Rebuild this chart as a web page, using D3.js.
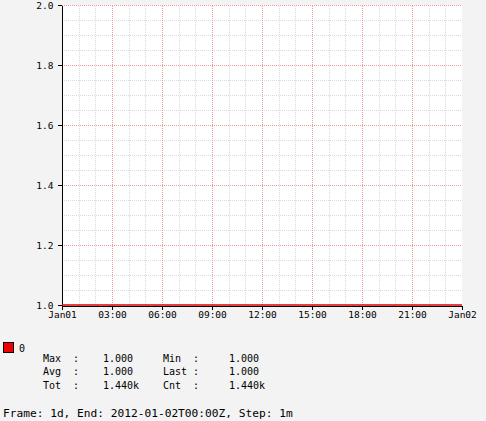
<!DOCTYPE html>
<html>
<head>
<meta charset="utf-8">
<script src="https://cdn.jsdelivr.net/npm/d3@7"></script>
<style>
  html, body { margin: 0; padding: 0; background: #f3f3f3; }
  svg { display: block; }
  text { font-family: "DejaVu Sans Mono", monospace; fill: #000; }
</style>
</head>
<body>
<svg id="chart" width="486" height="421"></svg>
<script>
// series "0": flat at 1.0 for the whole day (1m steps)
const seriesName = '0';
const seriesTimes = ['2012-01-01T00:00:00Z', '2012-01-02T00:00:00Z'];
const seriesValues = [1.0, 1.0];

const yDomain = [1.0, 2.0];
const yTicks = [1.0, 1.2, 1.4, 1.6, 1.8, 2.0];
const xTickLabels = ['Jan01', '03:00', '06:00', '09:00', '12:00', '15:00', '18:00', '21:00', 'Jan02'];

const statNames = ['Max', 'Avg', 'Tot', 'Min', 'Last', 'Cnt'];
const statValues = ['1.000', '1.000', '1.440k', '1.000', '1.000', '1.440k'];
const footer = 'Frame: 1d, End: 2012-01-02T00:00Z, Step: 1m';

function renderChart() {
  const svg = d3.select('#chart');
  const left = 62, right = 462, top = 5, bottom = 305;

  const t0 = new Date(seriesTimes[0]);
  const t1 = new Date(seriesTimes[seriesTimes.length - 1]);
  const scaleX = d3.scaleUtc().domain([t0, t1]).range([left, right]);
  const scaleY = d3.scaleLinear().domain(yDomain).range([bottom, top]);

  svg.append('rect')
    .attr('x', left).attr('y', top)
    .attr('width', right - left).attr('height', bottom - top)
    .attr('fill', '#fff');

  // dotted patterns (one pixel on, one off)
  const defs = svg.append('defs');
  const dots = [['vMinor', 1, 2, '#dadada'], ['hMinor', 2, 1, '#dadada'],
                ['vMajor', 1, 2, '#f59a9a'], ['hMajor', 2, 1, '#f59a9a']];
  dots.forEach(([id, w, h, c]) => {
    const p = defs.append('pattern').attr('id', id).attr('patternUnits', 'userSpaceOnUse')
      .attr('width', w).attr('height', h);
    p.append('rect').attr('width', 1).attr('height', 1).attr('fill', c);
  });

  const minorX = d3.utcHour.range(t0, t1).filter(d => d.getUTCHours() % 3 !== 0);
  const minorY = d3.range(yDomain[0], yDomain[1] + 1e-9, 0.05).filter(v => Math.abs(v * 5 - Math.round(v * 5)) > 1e-6);
  const majorX = d3.utcHour.every(3).range(t0, t1).slice(1);
  const majorY = yTicks.slice(1);

  const grid = svg.append('g').attr('shape-rendering', 'crispEdges');
  const vLines = (data, fill) => grid.selectAll(null).data(data).enter().append('rect')
    .attr('x', d => Math.round(scaleX(d))).attr('y', top)
    .attr('width', 1).attr('height', bottom - top).attr('fill', fill);
  const hLines = (data, fill) => grid.selectAll(null).data(data).enter().append('rect')
    .attr('y', d => Math.round(scaleY(d))).attr('x', left)
    .attr('height', 1).attr('width', right - left).attr('fill', fill);
  vLines(minorX, 'url(#vMinor)');
  hLines(minorY, 'url(#hMinor)');
  vLines(majorX, 'url(#vMajor)');
  hLines(majorY, 'url(#hMajor)');

  // axes
  const yAxis = d3.axisLeft(scaleY).tickValues(yTicks).tickFormat(d3.format('.1f'))
    .tickSizeInner(4).tickSizeOuter(0).tickPadding(4);
  const gy = svg.append('g').attr('transform', `translate(${left - 0.5},0)`).call(yAxis);
  const xTicks = d3.utcHour.every(3).range(t0, new Date(+t1 + 1));
  const xAxis = d3.axisBottom(scaleX).tickValues(xTicks).tickFormat((d, i) => xTickLabels[i])
    .tickSizeInner(4).tickSizeOuter(0).tickPadding(2);
  const gx = svg.append('g').attr('transform', `translate(0,${bottom + 0.5})`).call(xAxis);
  [gy, gx].forEach(g => {
    g.selectAll('text').style('font-size', '9.5px').attr('font-family', null);
    g.selectAll('line, path').attr('stroke', '#000').attr('shape-rendering', 'crispEdges');
  });

  // data line
  const line = d3.line().x((d, i) => scaleX(new Date(seriesTimes[i]))).y(d => scaleY(d));
  svg.append('path').datum(seriesValues)
    .attr('d', line).attr('fill', 'none')
    .attr('stroke', '#e00000').attr('stroke-width', 1.5);

  // legend
  svg.append('rect').attr('x', 3.5).attr('y', 342.5).attr('width', 10).attr('height', 10)
    .attr('fill', '#f00000').attr('stroke', '#000');
  svg.append('text').attr('x', 19).attr('y', 352).style('font-size', '10px').text(seriesName);

  const colName = [43, 163], colVal = [103, 229], rows = [362, 375, 388.5];
  statNames.forEach((name, i) => {
    const c = Math.floor(i / 3), r = i % 3;
    svg.append('text').attr('x', colName[c]).attr('y', rows[r]).style('font-size', '10px')
      .attr('xml:space', 'preserve')
      .text(name.padEnd(4, ' ') + ' :');
    svg.append('text').attr('x', colVal[c]).attr('y', rows[r]).style('font-size', '10px')
      .text(statValues[i]);
  });

  svg.append('text').attr('x', 3).attr('y', 416.5).style('font-size', '11.2px').text(footer);
}

renderChart();
</script>
</body>
</html>
